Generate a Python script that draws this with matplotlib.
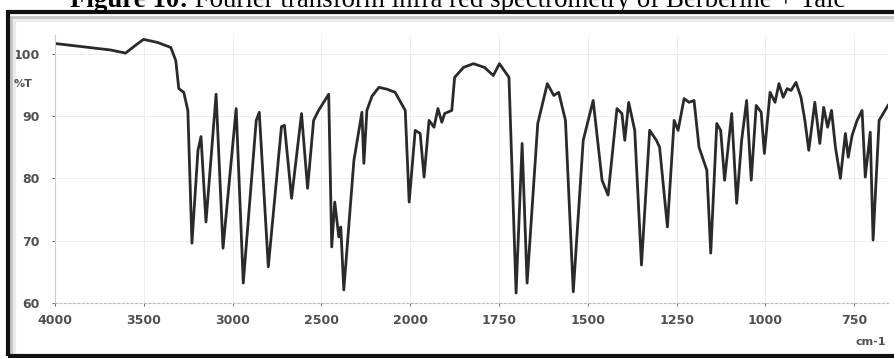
"""
FTIR spectrum of Berberine + Talc (Figure 10)
"""

import numpy as np
import matplotlib

matplotlib.use("Agg")
import matplotlib.pyplot as plt
from matplotlib.patches import Rectangle

# spectrum, wavenumber (cm-1) and transmittance (%T)
wavenumber = [
    3989, 3841, 3688, 3603, 3535, 3501, 3422, 3348, 3320, 3303, 3275, 3252,
    3229, 3195, 3178, 3150, 3093, 3054, 2980, 2940, 2867, 2850, 2799, 2725,
    2708, 2668, 2612, 2578, 2544, 2516, 2459, 2442, 2425, 2402, 2391, 2374,
    2317, 2272, 2261, 2244, 2215, 2176, 2130, 2085, 2028, 2006, 1986, 1972,
    1961, 1947, 1933, 1922, 1911, 1903, 1883, 1875, 1850, 1822, 1791, 1766,
    1749, 1722, 1702, 1685, 1671, 1641, 1614, 1596, 1582, 1563, 1541, 1513,
    1485, 1460, 1443, 1418, 1404, 1396, 1385, 1368, 1349, 1326, 1307, 1298,
    1276, 1257, 1246, 1229, 1215, 1201, 1187, 1165, 1154, 1137, 1126, 1115,
    1095, 1081, 1067, 1053, 1040, 1026, 1012, 1003, 987, 973, 962, 950, 939,
    928, 914, 900, 889, 878, 861, 847, 836, 825, 814, 803, 789, 775, 767, 756,
    742, 728, 719, 705, 697, 680, 655,
]
transmittance = [
    101.6, 101.1, 100.6, 100.1, 101.6, 102.3, 101.8, 101.0, 98.9, 94.4, 93.8, 90.9,
    69.6, 84.5, 86.7, 73.0, 93.5, 68.8, 91.2, 63.2, 89.3, 90.6, 65.8, 88.3,
    88.5, 76.8, 90.4, 78.4, 89.3, 90.9, 93.5, 69.0, 76.2, 70.6, 72.2, 62.1,
    82.9, 90.6, 82.4, 90.9, 93.2, 94.6, 94.3, 93.8, 90.9, 76.2, 87.7, 87.2,
    80.2, 89.3, 88.2, 91.2, 89.0, 90.4, 90.9, 96.2, 97.8, 98.4, 97.8, 96.5,
    98.4, 96.2, 61.6, 85.6, 63.2, 88.8, 95.2, 93.3, 93.8, 89.3, 61.8, 86.1,
    92.5, 79.7, 77.3, 91.2, 90.4, 86.1, 92.2, 87.7, 66.1, 87.7, 86.1, 85.0,
    72.2, 89.3, 87.7, 92.8, 92.2, 92.5, 85.0, 81.3, 68.0, 88.8, 87.7, 79.7,
    90.4, 76.0, 86.1, 92.5, 79.7, 91.7, 90.6, 84.0, 93.8, 92.2, 95.2, 93.0, 94.4,
    94.1, 95.4, 93.0, 89.3, 84.5, 92.2, 85.6, 91.4, 88.2, 90.9, 85.0, 80.0, 87.2,
    83.4, 86.9, 89.3, 90.9, 80.2, 87.4, 70.1, 89.3, 91.7,
]

x_ticks = [4000, 3500, 3000, 2500, 2000, 1750, 1500, 1250, 1000, 750]
y_ticks = [60, 70, 80, 90, 100]


# instrument scale: above 2000 cm-1 the axis is compressed by a factor of 2
def forward(x):
    x = np.asarray(x, dtype=float)
    return np.where(x > 2000, 2000 + (x - 2000) / 2, x)


def inverse(u):
    u = np.asarray(u, dtype=float)
    return np.where(u > 2000, 2000 + (u - 2000) * 2, u)


W, H = 894, 358
fig = plt.figure(figsize=(W / 100, H / 100), dpi=100)

# frame around the chart (black border with a soft grey inner edge)
fig.patches.append(Rectangle((14 / W, 2 / H), 890 / W, 336 / H, transform=fig.transFigure,
                             fill=False, edgecolor="#ececec", linewidth=3))
fig.patches.append(Rectangle((11 / W, 2 / H), 890 / W, 339 / H, transform=fig.transFigure,
                             fill=False, edgecolor="#c4c4c4", linewidth=2))
fig.patches.append(Rectangle((8 / W, 2 / H), 890 / W, 344.5 / H, transform=fig.transFigure,
                             fill=False, edgecolor="#111111", linewidth=3))

ax = fig.add_axes([55 / W, 1 - 303 / H, 833 / W, 268 / H])
ax.set_xscale("function", functions=(forward, inverse))
ax.plot(wavenumber, transmittance, color="#2a2a2a", linewidth=2.0)
ax.set_xlim(4000, 655)
ax.set_ylim(60, 103)

ax.set_xticks(x_ticks)
ax.set_xticklabels([str(v) for v in x_ticks])
ax.set_yticks(y_ticks)
ax.minorticks_off()
ax.tick_params(axis="both", labelsize=9, colors="#555555", length=2, width=0.6)
ax.tick_params(axis="x", pad=6)
ax.tick_params(axis="y", pad=9)
for lab in ax.get_xticklabels() + ax.get_yticklabels():
    lab.set_fontweight("bold")
    lab.set_color("#505050")

ax.grid(True, color="#ededed", linewidth=0.7)
for side in ["top", "right"]:
    ax.spines[side].set_visible(False)
ax.spines["left"].set_color("#cccccc")
ax.spines["bottom"].set_color("#bbbbbb")
ax.spines["bottom"].set_linestyle((0, (2, 2)))

fig.text(14 / W, 1 - 87 / H, "%T", fontsize=8, color="#505050", fontweight="bold")
fig.text(886 / W, 1 - 345 / H, "cm-1", fontsize=8, color="#505050", fontweight="bold",
         ha="right")

# title, mostly cut off at the top like the scan
t1 = fig.text(70 / W, 1 - 7 / H, "Figure 10:", fontsize=19.4, fontweight="bold",
              family="Liberation Serif", va="baseline", ha="left")
ax.annotate(" Fourier transform infra red spectrometry of Berberine + Talc",
            xy=(1, 0), xycoords=t1, fontsize=19.4, family="Liberation Serif",
            va="bottom", ha="left", annotation_clip=False)

fig.savefig("out.png", dpi=100)
